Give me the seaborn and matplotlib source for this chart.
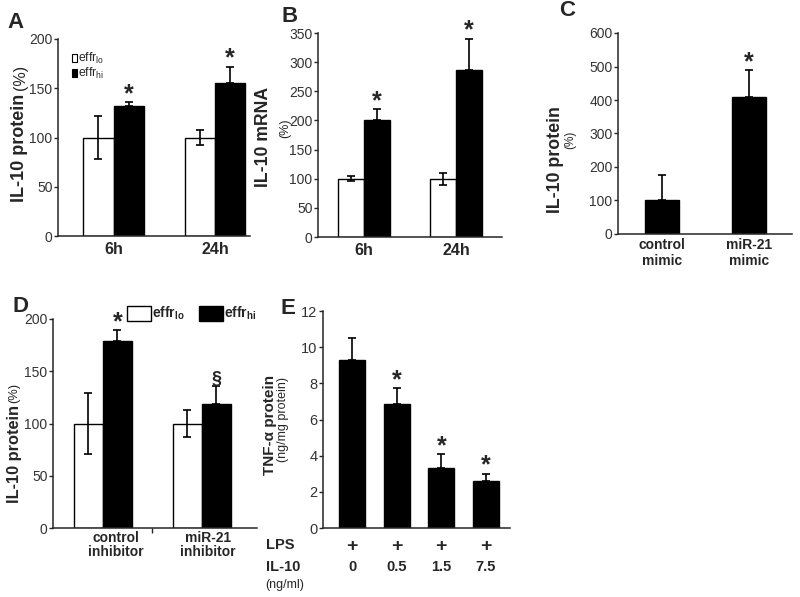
import matplotlib.pyplot as plt
import numpy as np
import pandas as pd
import seaborn as sns
from matplotlib.patches import Patch

# panel A: IL-10 protein, effr lo / hi, 6h and 24h
A_groups = ["6h", "24h"]
A_lo = [100, 100]
A_lo_err = [22, 8]
A_hi = [132, 155]
A_hi_err = [4, 17]
A_hi_marks = ["*", "*"]

# panel B: IL-10 mRNA
B_groups = ["6h", "24h"]
B_lo = [100, 100]
B_lo_err = [4, 10]
B_hi = [200, 287]
B_hi_err = [19, 53]
B_hi_marks = ["*", "*"]

# panel C: mimic
C_groups = ["control\nmimic", "miR-21\nmimic"]
C_vals = [100, 409]
C_err = [77, 80]
C_marks = ["", "*"]

# panel D: inhibitor
D_groups = ["control\ninhibitor", "miR-21\ninhibitor"]
D_lo = [100, 100]
D_lo_err = [29, 13]
D_hi = [179, 119]
D_hi_err = [10, 17]
D_hi_marks = ["*", "§"]

# panel E: TNF-alpha
E_lps = ["+", "+", "+", "+"]
E_il10 = ["0", "0.5", "1.5", "7.5"]
E_vals = [9.3, 6.85, 3.33, 2.6]
E_err = [1.2, 0.87, 0.76, 0.4]
E_marks = ["", "*", "*", "*"]

W, H = 800, 597

sns.set_style("ticks")
plt.rcParams["font.family"] = ["Liberation Sans", "DejaVu Sans"]
plt.rcParams["mathtext.fontset"] = "custom"
plt.rcParams["mathtext.rm"] = "Liberation Sans"
plt.rcParams["mathtext.bf"] = "Liberation Sans:bold"

TICK_COLOR = "#333333"
MARK_STYLE = {"*": (18, 0.8), "§": (13, 1.5)}


def fx(x):
    return x / W


def fy(y):
    return 1 - y / H


fig = plt.figure(figsize=(W / 100, H / 100), dpi=100)


def add_axes(left, top, right, bottom):
    return fig.add_axes([fx(left), fy(bottom), (right - left) / W, (bottom - top) / H])


def style_axes(ax, ymax, ystep, xlim, ylabelsize=10):
    ax.set_xlim(xlim)
    ax.set_ylim(0, ymax)
    ax.set_yticks(np.arange(0, ymax + ystep / 2, ystep))
    ax.set_xlabel("")
    ax.set_ylabel("")
    sns.despine(ax=ax)
    for side in ["left", "bottom"]:
        ax.spines[side].set_linewidth(1.1)
    ax.tick_params(axis="y", length=3, width=1, labelsize=ylabelsize,
                   labelcolor=TICK_COLOR, pad=1)
    ax.tick_params(axis="x", length=0)


def add_errors(ax, container, errs, two_sided):
    xs = [p.get_x() + p.get_width() / 2 for p in container]
    tops = [p.get_height() for p in container]
    lower = errs if two_sided else [0] * len(errs)
    ax.errorbar(xs, tops, yerr=[lower, errs], fmt="none", ecolor="black",
                elinewidth=1.2, capsize=3, capthick=1.2, zorder=3)
    return xs, [t + e for t, e in zip(tops, errs)]


def add_marks(ax, xs, tops, marks):
    for x, t, m in zip(xs, tops, marks):
        if not m:
            continue
        size, dy = MARK_STYLE[m]
        ax.annotate(m, xy=(x, t), xytext=(0, dy), textcoords="offset points",
                    ha="center", va="baseline", fontsize=size, fontweight="bold")


def grouped_panel(ax, groups, lo, lo_err, hi, hi_err, marks, width):
    n = len(groups)
    df = pd.DataFrame({
        "group": groups * 2,
        "cell": ["lo"] * n + ["hi"] * n,
        "value": lo + hi,
    })
    sns.barplot(data=df, x="group", y="value", hue="cell",
                palette={"lo": "white", "hi": "black"}, edgecolor="black",
                linewidth=1, width=width, errorbar=None, legend=False, ax=ax)
    add_errors(ax, ax.containers[0], lo_err, True)
    xs, tops = add_errors(ax, ax.containers[1], hi_err, False)
    add_marks(ax, xs, tops, marks)


def single_panel(ax, groups, vals, errs, marks, width):
    sns.barplot(x=list(range(len(vals))), y=vals, color="black", edgecolor="black",
                linewidth=1, width=width, errorbar=None, ax=ax)
    xs, tops = add_errors(ax, ax.containers[0], errs, False)
    add_marks(ax, xs, tops, marks)


def bold_xticks(ax, labels, size, pad, linespacing=1.1, positions=None):
    if positions is None:
        positions = list(range(len(labels)))
    ax.set_xticks(positions, labels)
    ax.tick_params(axis="x", labelsize=size, pad=pad)
    for lbl in ax.get_xticklabels():
        lbl.set_fontweight("bold")
        lbl.set_linespacing(linespacing)


def fig_text(x, y, s, size, bold=False, rotation=0, ha="center", va="center"):
    fig.text(fx(x), fy(y), s, fontsize=size, rotation=rotation, ha=ha, va=va,
             fontweight="bold" if bold else "normal")


# ---- A ----
axA = add_axes(58, 39, 250, 236)
grouped_panel(axA, A_groups, A_lo, A_lo_err, A_hi, A_hi_err, A_hi_marks, 0.6)
style_axes(axA, 200, 50, (-0.547, 1.345))
bold_xticks(axA, A_groups, 11.5, 4)
handles = [Patch(facecolor="white", edgecolor="black", linewidth=0.8),
           Patch(facecolor="black", edgecolor="black", linewidth=0.8)]
axA.legend(handles, [r"effr$_{\mathregular{lo}}$", r"effr$_{\mathregular{hi}}$"],
           loc="upper left", bbox_to_anchor=(fx(72), fy(51)),
           bbox_transform=fig.transFigure, frameon=False, fontsize=8.8,
           handlelength=0.4, handleheight=0.6, handletextpad=0.1,
           labelspacing=0.0, borderpad=0, borderaxespad=0)
fig_text(20, 148, "IL-10 protein", 13, bold=True, rotation=90)
fig_text(20.5, 77.5, "(%)", 11.5, rotation=90)
fig_text(15, 23, "A", 16, bold=True)

# ---- B ----
axB = add_axes(318, 33, 502, 237)
grouped_panel(axB, B_groups, B_lo, B_lo_err, B_hi, B_hi_err, B_hi_marks, 0.565)
style_axes(axB, 350, 50, (-0.5, 1.5))
bold_xticks(axB, B_groups, 11.5, 4)
fig_text(264, 137, "IL-10 mRNA", 12.7, bold=True, rotation=90)
fig_text(285, 128, "(%)", 9, rotation=90)
fig_text(289.5, 16.5, "B", 16, bold=True)

# ---- C ----
axC = add_axes(618, 33, 792, 234)
single_panel(axC, C_groups, C_vals, C_err, C_marks, 0.39)
style_axes(axC, 600, 100, (-0.506, 1.494))
bold_xticks(axC, C_groups, 10, 3, linespacing=1.2)
fig_text(556, 160, "IL-10 protein", 12.8, bold=True, rotation=90)
fig_text(570, 140, "(%)", 8.5, rotation=90)
fig_text(567.5, 11, "C", 16, bold=True)

# ---- D ----
axD = add_axes(53, 319, 257, 528)
grouped_panel(axD, D_groups, D_lo, D_lo_err, D_hi, D_hi_err, D_hi_marks, 0.586)
style_axes(axD, 200, 50, (-0.505, 1.556))
bold_xticks(axD, D_groups, 10, 2, linespacing=1.05, positions=[0.13, 1.06])
axD.set_xticks([0.5], minor=True)
axD.tick_params(axis="x", which="minor", length=3.5, width=1)
handles = [Patch(facecolor="white", edgecolor="black", linewidth=1),
           Patch(facecolor="black", edgecolor="black", linewidth=1)]
axD.legend(handles, [r"effr$_{\mathregular{lo}}$", r"effr$_{\mathregular{hi}}$"],
           loc="upper left", bbox_to_anchor=(fx(127), fy(305)),
           bbox_transform=fig.transFigure, frameon=False, ncol=2,
           prop={"size": 10, "weight": "bold"},
           handlelength=1.73, handleheight=1.22, handletextpad=0.1,
           columnspacing=1.0, borderpad=0, borderaxespad=0)
fig_text(14, 454, "IL-10 protein", 11.8, bold=True, rotation=90)
fig_text(14, 393, "(%)", 9.3, rotation=90)
fig_text(20, 306, "D", 16, bold=True)

# ---- E ----
axE = add_axes(323, 311, 510, 528)
single_panel(axE, E_il10, E_vals, E_err, E_marks, 0.58)
style_axes(axE, 12, 2, (-0.65, 3.54), ylabelsize=10.5)
bold_xticks(axE, E_lps, 14, 7)
xform = axE.get_xaxis_transform()
for i, s in enumerate(E_il10):
    axE.text(i, -0.18, s, transform=xform, ha="center", va="center",
             fontsize=10.5, fontweight="bold")
fig_text(266, 545, "LPS", 10.5, bold=True, ha="left")
fig_text(266, 567, "IL-10", 10.5, bold=True, ha="left")
fig_text(265, 585, "(ng/ml)", 9, ha="left")
fig_text(270, 425, "TNF-α protein", 11, bold=True, rotation=90)
fig_text(283, 419, "(ng/mg protein)", 9, rotation=90)
fig_text(287.5, 309, "E", 16, bold=True)

fig.savefig("out.png", dpi=100)
